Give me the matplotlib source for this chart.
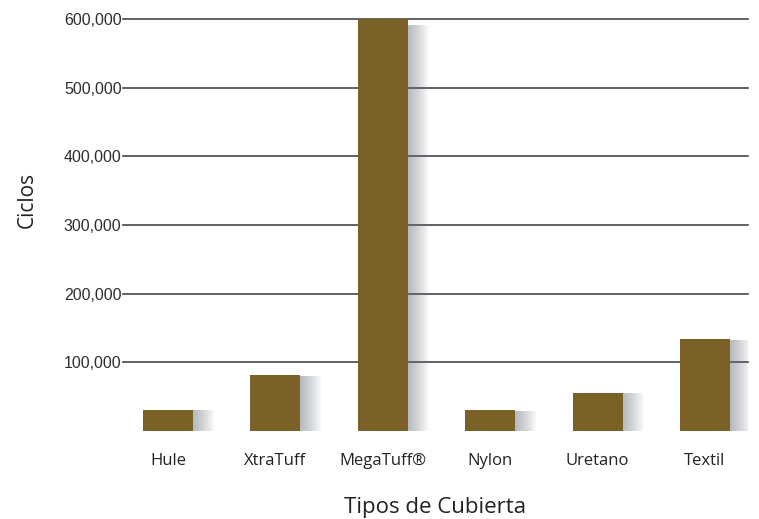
import matplotlib
matplotlib.use("Agg")
import matplotlib.pyplot as plt
import numpy as np

categories = ["Hule", "XtraTuff", "MegaTuff®", "Nylon", "Uretano", "Textil"]
ciclos = [31000, 81000, 600000, 30000, 56000, 134000]
yticks = [100000, 200000, 300000, 400000, 500000, 600000]
ytick_labels = ["100,000", "200,000", "300,000", "400,000", "500,000", "600,000"]

bar_color = "#7b6128"
shadow_color = "#6f7784"
grid_color = "#4a4547"

fig = plt.figure(figsize=(7.59, 5.19), dpi=100)
ax = fig.add_axes([0.162, 0.1696, 0.8235, 0.7938])

x = np.arange(len(categories))
width = 0.465

# soft shadow to the right of each bar
n_layers = 14
for k in range(1, n_layers + 1):
    ax.bar(x + width / 2, np.array(ciclos) * 0.985, width=0.014 * k, align="edge",
           color=shadow_color, alpha=0.045, linewidth=0, zorder=2)

ax.bar(x, ciclos, width=width, color=bar_color, linewidth=0, zorder=3)

ax.set_xlim(-0.42, 5.4)
ax.set_ylim(0, 600000)
ax.set_yticks(yticks)
ax.set_yticklabels(ytick_labels, fontsize=11.5, color="#2e2e2e", family="Liberation Sans")
ax.set_xticks(x)
ax.set_xticklabels(categories, fontsize=12, color="#222222", family="Open Sans")
ax.tick_params(axis="y", length=0, pad=1)
ax.tick_params(axis="x", length=0, pad=16)

for y in yticks:
    ax.axhline(y, color=grid_color, linewidth=1.2, zorder=1, clip_on=False)

for s in ax.spines.values():
    s.set_visible(False)

ax.set_xlabel("Tipos de Cubierta", fontsize=16, color="#222222", family="Open Sans", labelpad=20)
ax.set_ylabel("Ciclos", fontsize=15, color="#222222", family="Open Sans")
ax.yaxis.set_label_coords(-0.136, 0.56)

fig.savefig("out.png", dpi=100)
